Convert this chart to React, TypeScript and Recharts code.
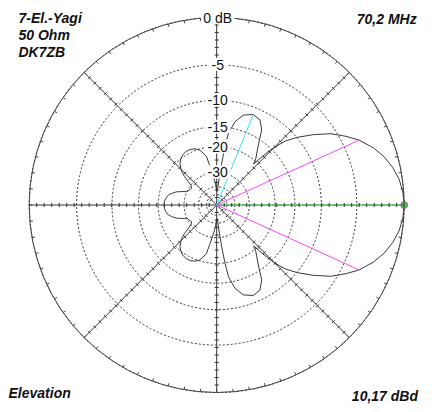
import React from 'react';
import { RadarChart, Radar, PolarGrid, PolarAngleAxis, PolarRadiusAxis } from 'recharts';

// Elevation pattern: angle in degrees (0 = forward, 90 = zenith), relative gain in dB
const ANGLES = [
  0, 4, 8, 12, 16, 20, 24.5, 28, 32, 36, 40, 43, 45, 46, 47, 48, 49, 50, 53.5, 56.7,
  59, 63, 68, 73.5, 77.6, 80.7, 81.9, 83.2, 84.5, 86, 88, 90, 92, 94, 96, 98, 100, 102, 107, 111,
  115.6, 120, 124, 128, 131.4, 134, 136.4, 138.5, 140.5, 143, 146.3, 150, 153, 156, 159, 162, 165, 168, 172, 176,
  180, 184, 188, 192, 195, 198, 201, 204, 207, 210, 213.7, 217, 219.5, 221.5, 223.6, 226, 228.6, 232, 236, 240,
  244.4, 249, 253, 258, 260, 262, 264, 266, 268, 270, 272, 274, 275.5, 276.8, 278.1, 279.3, 282.4, 286.5, 292, 297,
  301, 303.3, 306.5, 310, 311, 312, 313, 314, 315, 317, 320, 324, 328, 332, 335.5, 340, 344, 348, 352, 356,
];
const GAIN_DB = [
  0, -0.08, -0.3, -0.7, -1.25, -2.0, -3.1, -4.25, -5.7, -7.7, -9.9, -11.9, -14.3, -16.0, -18.5, -21.0, -20.2, -19.3, -17.3, -15.1,
  -13.1, -11.6, -11.2, -11.9, -13.5, -16.3, -19.9, -25.7, -32, -40, -45, -45, -40, -36, -33, -30, -26.5, -22.7, -20.3, -19.5,
  -19.1, -19.1, -19.4, -20.0, -20.9, -22.0, -23.3, -25.3, -28.0, -30.3, -31.4, -31.0, -30.5, -29.9, -27.6, -25.5, -24.2, -23.0, -22.3, -21.9,
  -21.8, -21.9, -22.3, -23.0, -24.2, -25.5, -27.6, -29.9, -30.5, -31.0, -31.4, -30.3, -28.0, -25.3, -23.3, -22.0, -20.9, -20.0, -19.4, -19.1,
  -19.1, -19.5, -20.3, -22.7, -26.5, -30, -33, -36, -40, -45, -45, -40, -32, -25.7, -19.9, -16.3, -13.5, -11.9, -11.2, -11.6,
  -13.1, -15.1, -17.3, -19.3, -20.2, -21.0, -18.5, -16.0, -14.3, -11.9, -9.9, -7.7, -5.7, -4.25, -3.1, -2.0, -1.25, -0.7, -0.3, -0.08,
];

const RING_DB = [0, -5, -10, -15, -20, -30, -40, -50];
const RING_LABELS = ['0 dB', '-5', '-10', '-15', '-20', '-30', '', ''];
const SPOKE_ANGLES = [0, 45, 90, 135, 180, 225, 270, 315];
const OUTER_TICKS = Array.from({ length: 72 }, (_, i) => i * 5);
const SPOKE_TICKS = Array.from({ length: 24 }, (_, i) => (i + 1) * 0.04);
const MAIN_LOBE_ANGLES = [0];
const SIDE_LOBE_ANGLES = [68];
const HALF_POWER_ANGLES = [24.5, 335.5];

const TITLE_LINES = ['7-El.-Yagi', '50 Ohm', 'DK7ZB'];
const FREQ_LABEL = '70,2 MHz';
const PLANE_LABEL = 'Elevation';
const GAIN_LABEL = '10,17 dBd';

// ARRL log-periodic scale: 0.89 per 2 dB
const arrl = (db: number) => Math.pow(0.89, -db / 2);

const W = 427;
const H = 404;
const CX = 208.7;
const CY = 197;
const R = 187.5;
const FONT = '"Liberation Sans", Arial, sans-serif';

const data = ANGLES.map((a, i) => ({
  angle: a,
  r: arrl(GAIN_DB[i]),
  mark: MAIN_LOBE_ANGLES.includes(a)
    ? 'main'
    : SIDE_LOBE_ANGLES.includes(a)
    ? 'side'
    : HALF_POWER_ANGLES.includes(a)
    ? 'half'
    : null,
}));

const RING_TICKS = RING_DB.map(arrl);

const MarkerShape = (props: any) => {
  const pts = (props.points || []).filter((p: any) => p.payload && p.payload.mark);
  return (
    <g>
      {pts.map((p: any, i: number) => {
        const m = p.payload.mark;
        const col = m === 'main' ? '#44e044' : m === 'side' ? '#33e6f0' : '#ff44ff';
        return (
          <g key={i}>
            <line x1={p.cx} y1={p.cy} x2={p.x} y2={p.y} stroke={col} strokeWidth={1} />
            {m === 'main' && (
              <line x1={p.cx} y1={p.cy} x2={p.x} y2={p.y} stroke="#8ef0f8" strokeWidth={1} strokeDasharray="1 5" />
            )}
            {m === 'main' && (
              <circle cx={p.x} cy={p.y} r={3.5} fill="#44cc44" stroke="#c050c0" strokeWidth={1} />
            )}
          </g>
        );
      })}
    </g>
  );
};

const RingLabel = (props: any) => {
  const v = props.payload ? props.payload.value : null;
  const idx = RING_TICKS.findIndex((t) => Math.abs(t - v) < 1e-9);
  const label = idx >= 0 ? RING_LABELS[idx] : '';
  if (!label) return <g />;
  const w = label.length * 7.6 + 3;
  const x = Number(props.x) + 1;
  const y = Number(props.y);
  return (
    <g>
      <rect x={x - w / 2} y={y - 7} width={w} height={13} fill="#ffffff" stroke="none" />
      <text
        x={x}
        y={y + 5}
        textAnchor="middle"
        fontFamily={FONT}
        fontSize={14}
        fill="#111"
        stroke="#ffffff"
        strokeWidth={3}
        paintOrder="stroke"
        style={{ paintOrder: 'stroke' }}
      >
        {label}
      </text>
    </g>
  );
};

const SpokeTicks = (props: any) => {
  const r = Math.hypot(props.x - CX, props.y - CY);
  return (
    <g>
      {SPOKE_ANGLES.map((a) => {
        const rad = (a * Math.PI) / 180;
        const px = CX + r * Math.cos(rad);
        const py = CY - r * Math.sin(rad);
        const nx = Math.sin(rad);
        const ny = Math.cos(rad);
        return (
          <line
            key={a}
            x1={px - 2 * nx}
            y1={py - 2 * ny}
            x2={px + 2 * nx}
            y2={py + 2 * ny}
            stroke="#333"
            strokeWidth={1}
          />
        );
      })}
    </g>
  );
};

const txt = {
  fontFamily: FONT,
  fontSize: 14,
  fontWeight: 'bold' as const,
  fontStyle: 'italic' as const,
  fill: '#111',
};

const chartProps = {
  width: W,
  height: H,
  data,
  cx: CX,
  cy: CY,
  outerRadius: R,
  innerRadius: 0,
  startAngle: 0,
  endAngle: 360,
  margin: { top: 0, right: 0, bottom: 0, left: 0 },
};

const overlay = { position: 'absolute' as const, left: 0, top: 0 };

export default function App() {
  return (
    <div style={{ position: 'relative', width: W, height: H }}>
      <RadarChart {...chartProps}>
        <PolarGrid gridType="circle" polarAngles={SPOKE_ANGLES} polarRadius={[]} stroke="#333" strokeWidth={1} />
        <PolarGrid gridType="circle" radialLines={false} stroke="#333" strokeDasharray="2 2" strokeWidth={1} />
        <PolarAngleAxis
          type="number"
          dataKey="angle"
          domain={[0, 360]}
          ticks={OUTER_TICKS}
          tick={false}
          tickLine={{ stroke: '#444' }}
          tickSize={3}
          orientation="inner"
          axisLineType="circle"
          axisLine={{ stroke: '#444' }}
        />
        <PolarRadiusAxis type="number" domain={[0, 1]} angle={90} ticks={RING_TICKS} axisLine={false} tick={false} />
        <Radar dataKey="r" stroke="#3a3a3a" strokeWidth={1} fill="none" fillOpacity={0} dot={false} isAnimationActive={false} />
        <Radar dataKey="r" shape={MarkerShape} isAnimationActive={false} />
      </RadarChart>
      <div style={overlay}>
        <RadarChart {...chartProps}>
          <PolarAngleAxis type="number" dataKey="angle" domain={[0, 360]} tick={false} tickLine={false} axisLine={false} />
          <PolarRadiusAxis type="number" domain={[0, 1]} angle={0} ticks={SPOKE_TICKS} axisLine={false} tick={SpokeTicks} />
          <Radar dataKey="r" stroke="none" fill="none" dot={false} isAnimationActive={false} />
        </RadarChart>
      </div>
      <div style={overlay}>
        <RadarChart {...chartProps}>
          <PolarAngleAxis type="number" dataKey="angle" domain={[0, 360]} tick={false} tickLine={false} axisLine={false} />
          <PolarRadiusAxis type="number" domain={[0, 1]} angle={90} ticks={RING_TICKS} axisLine={false} tick={RingLabel} />
          <Radar dataKey="r" stroke="none" fill="none" dot={false} isAnimationActive={false} />
        </RadarChart>
      </div>
      <svg width={W} height={H} style={{ ...overlay, pointerEvents: 'none' }}>
        {TITLE_LINES.map((t, i) => (
          <text key={t} x={10.5} y={15.3 + i * 16.7} {...txt}>
            {t}
          </text>
        ))}
        <text x={408.7} y={16} textAnchor="end" {...txt}>
          {FREQ_LABEL}
        </text>
        <text x={0.5} y={390.3} {...txt}>
          {PLANE_LABEL}
        </text>
        <text x={410} y={392.7} textAnchor="end" {...txt}>
          {GAIN_LABEL}
        </text>
      </svg>
    </div>
  );
}
